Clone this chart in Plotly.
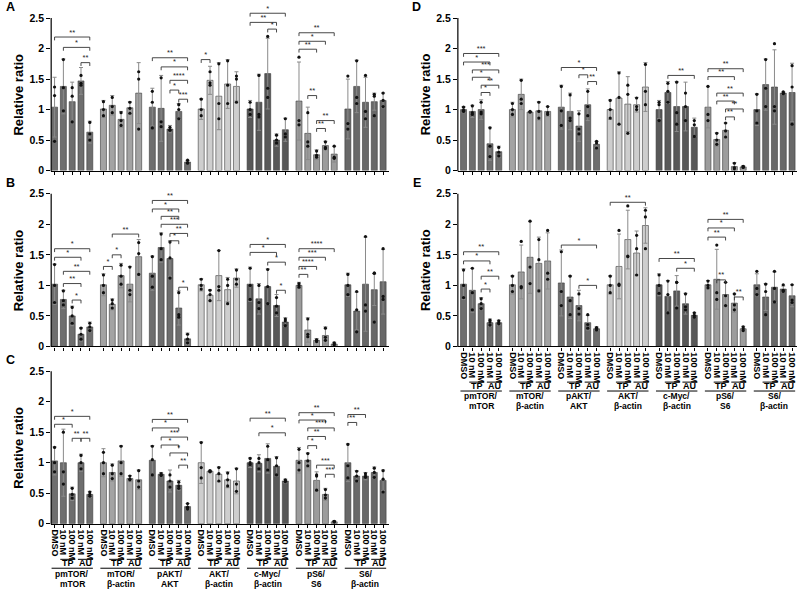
import plotly.graph_objects as go

# ---------------- data ----------------
conditions = ["DMSO", "10 nM", "100 nM", "10 nM", "100 nM"]
treatments = ["TP", "AU"]
group_top = ["pmTOR/", "mTOR/", "pAKT/", "AKT/", "c-Myc/", "pS6/", "S6/"]
group_bottom = ["mTOR", "β-actin", "AKT", "β-actin", "β-actin", "S6", "β-actin"]
group_colors = ["#6e6e6e", "#a3a3a3", "#6e6e6e", "#cecece", "#585858", "#9c9c9c", "#686868"]
y_ticks = [0, 0.5, 1, 1.5, 2, 2.5]
y_ticktext = ["0", "0.5", "1", "1.5", "2", "2.5"]

A_mean = [1.04, 1.38, 1.13, 1.47, 0.63,  1.01, 1.07, 0.84, 1.03, 1.27,  1.04, 1.02, 0.68, 0.97, 0.14,
          1.01, 1.48, 1.22, 1.42, 1.38,  1.01, 1.12, 1.59, 0.50, 0.67,  1.14, 0.61, 0.26, 0.41, 0.27,
          1.01, 1.38, 1.12, 1.13, 1.15]
A_err = [0.49, 0.45, 0.32, 0.22, 0.18,  0.14, 0.16, 0.13, 0.10, 0.50,  0.31, 0.54, 0.06, 0.13, 0.03,
         0.17, 0.23, 0.55, 0.40, 0.24,  0.14, 0.46, 0.58, 0.10, 0.19,  0.64, 0.43, 0.08, 0.07, 0.13,
         0.49, 0.43, 0.41, 0.14, 0.12]
A_dots = [[1.37, 1.23, 0.48], [1.82, 1.36, 0.98], [1.36, 1.22, 0.80], [1.56, 1.43, 1.40], [0.79, 0.60, 0.50],
          [1.13, 1.0, 0.9], [1.2, 1.05, 0.95], [0.95, 0.82, 0.74], [1.12, 1.02, 0.94], [1.62, 1.5, 0.68],
          [1.3, 1.12, 0.7], [1.52, 0.8, 0.72], [0.71, 0.67, 0.66], [1.08, 1.0, 0.85], [0.17, 0.13, 0.12],
          [1.17, 1.0, 0.9], [1.62, 1.44, 1.40], [1.75, 1.1, 0.85], [1.8, 1.4, 1.1], [1.55, 1.5, 1.12],
          [1.12, 1.0, 0.92], [1.56, 0.92, 0.88], [2.2, 1.35, 1.2], [0.58, 0.5, 0.45], [0.85, 0.6, 0.55],
          [1.86, 0.82, 0.75], [0.95, 0.47, 0.4], [0.32, 0.25, 0.22], [0.47, 0.38, 0.36], [0.4, 0.22, 0.2],
          [1.55, 0.77, 0.68], [1.8, 1.2, 1.1], [1.56, 0.97, 0.85], [1.25, 1.22, 0.9], [1.27, 1.15, 1.05]]
A_sig = [(0, 0, 4, 2.19, "**"), (0, 1, 4, 2.02, "*"), (0, 3, 4, 1.77, "**"),
         (2, 0, 4, 1.85, "**"), (2, 1, 4, 1.70, "*"), (2, 2, 4, 1.48, "****"), (2, 2, 3, 1.32, "*"),
         (2, 3, 4, 1.17, "***"),
         (3, 0, 1, 1.82, "*"),
         (4, 0, 4, 2.58, "*"), (4, 0, 3, 2.43, "**"), (4, 2, 3, 2.32, "*"),
         (5, 0, 4, 2.26, "**"), (5, 0, 3, 2.12, "*"), (5, 0, 2, 1.99, "**"), (5, 1, 2, 1.23, "**"),
         (5, 2, 4, 0.82, "**"), (5, 2, 3, 0.69, "**")]

B_mean = [1.02, 0.77, 0.50, 0.20, 0.32,  1.01, 0.69, 1.16, 1.02, 1.47,  1.20, 1.62, 1.44, 0.63, 0.125,
          1.01, 0.84, 1.16, 0.93, 1.12,  1.02, 0.78, 0.98, 0.67, 0.40,  1.00, 0.27, 0.10, 0.18, 0.04,
          1.01, 0.58, 1.02, 0.93, 1.06]
B_err = [0.33, 0.15, 0.16, 0.11, 0.08,  0.18, 0.09, 0.20, 0.29, 0.28,  0.28, 0.24, 0.29, 0.28, 0.095,
         0.10, 0.09, 0.41, 0.20, 0.15,  0.28, 0.25, 0.29, 0.18, 0.07,  0.05, 0.20, 0.03, 0.14, 0.03,
         0.19, 0.31, 0.77, 0.26, 0.53]
B_dots = [[1.34, 1.0, 0.72], [0.91, 0.75, 0.68], [0.64, 0.5, 0.38], [0.30, 0.2, 0.12], [0.38, 0.32, 0.26],
          [1.17, 1.0, 0.88], [0.76, 0.7, 0.63], [1.33, 1.15, 1.02], [1.3, 0.92, 0.85], [1.7, 1.52, 1.18],
          [1.47, 1.15, 0.97], [1.84, 1.6, 1.42], [1.71, 1.45, 1.12], [0.88, 0.52, 0.48], [0.2, 0.12, 0.06],
          [1.1, 1.0, 0.94], [0.92, 0.85, 0.75], [1.57, 0.98, 0.92], [1.1, 1.0, 0.7], [1.25, 1.1, 1.02],
          [1.28, 1.0, 0.77], [1.0, 0.72, 0.62], [1.26, 0.98, 0.7], [0.8, 0.66, 0.55], [0.45, 0.42, 0.34],
          [1.03, 1.0, 0.97], [0.45, 0.2, 0.16], [0.11, 0.1, 0.08], [0.3, 0.15, 0.1], [0.06, 0.04, 0.03],
          [1.18, 1.0, 0.85], [0.9, 0.6, 0.24], [1.8, 0.68, 0.58], [1.2, 1.2, 0.4], [1.6, 0.82, 0.77]]
B_sig = [(0, 0, 4, 1.60, "*"), (0, 0, 3, 1.46, "*"), (0, 1, 4, 1.23, "**"), (0, 1, 3, 1.03, "**"),
         (0, 2, 3, 0.76, "*"),
         (1, 1, 4, 1.84, "**"), (1, 1, 2, 1.50, "*"), (1, 0, 1, 1.31, "*"),
         (2, 0, 4, 2.39, "**"), (2, 0, 3, 2.25, "*"), (2, 1, 3, 2.13, "**"), (2, 1, 4, 2.00, "***"),
         (2, 2, 4, 1.85, "**"), (2, 2, 3, 1.73, "*"), (2, 3, 4, 0.97, "*"),
         (4, 0, 4, 1.67, "*"), (4, 0, 3, 1.54, "*"), (4, 2, 4, 1.38, "*"), (4, 3, 4, 0.92, "*"),
         (5, 0, 4, 1.60, "****"), (5, 0, 3, 1.46, "***"), (5, 0, 2, 1.31, "****"), (5, 0, 1, 1.18, "**")]

C_mean = [1.03, 1.00, 0.49, 1.00, 0.48,  1.00, 0.84, 1.03, 0.74, 0.72,  1.04, 0.81, 0.70, 0.63, 0.28,
          1.00, 0.86, 0.81, 0.72, 0.70,  1.00, 0.99, 1.07, 0.94, 0.70,  1.04, 1.04, 0.71, 0.48, 0.03,
          1.00, 0.78, 0.78, 0.84, 0.71]
C_err = [0.23, 0.55, 0.11, 0.14, 0.05,  0.23, 0.14, 0.25, 0.05, 0.16,  0.24, 0.03, 0.18, 0.08, 0.05,
         0.34, 0.015, 0.12, 0.13, 0.21,  0.08, 0.14, 0.24, 0.16, 0.03,  0.21, 0.12, 0.14, 0.10, 0.02,
         0.31, 0.09, 0.06, 0.09, 0.17]
C_dots = [[1.25, 1.0, 0.85], [1.5, 0.85, 0.65], [0.58, 0.48, 0.42], [1.12, 1.0, 0.9], [0.52, 0.48, 0.45],
          [1.17, 1.0, 0.82], [0.96, 0.82, 0.74], [1.27, 1.0, 0.82], [0.78, 0.73, 0.72], [0.87, 0.7, 0.6],
          [1.27, 1.05, 0.8], [0.82, 0.8, 0.79], [0.8, 0.7, 0.6], [0.68, 0.62, 0.58], [0.33, 0.27, 0.24],
          [1.33, 0.92, 0.75], [0.87, 0.86, 0.85], [0.92, 0.82, 0.7], [0.83, 0.72, 0.62], [0.9, 0.65, 0.53],
          [1.07, 1.0, 0.97], [1.07, 1.0, 0.9], [1.27, 1.05, 0.88], [1.08, 0.95, 0.8], [0.72, 0.7, 0.69],
          [1.22, 1.0, 0.88], [1.15, 1.03, 0.95], [0.8, 0.78, 0.55], [0.56, 0.47, 0.42], [0.04, 0.03, 0.03],
          [1.3, 0.95, 0.75], [0.86, 0.78, 0.7], [0.82, 0.78, 0.76], [0.91, 0.84, 0.76], [0.87, 0.73, 0.52]]
C_sig = [(0, 0, 4, 1.76, "*"), (0, 0, 2, 1.63, "*"), (0, 2, 3, 1.40, "**"), (0, 3, 4, 1.40, "**"),
         (2, 0, 4, 1.71, "**"), (2, 0, 3, 1.57, "*"), (2, 1, 4, 1.42, "***"), (2, 1, 3, 1.29, "*"),
         (2, 2, 4, 1.16, "*"), (2, 3, 4, 0.96, "**"),
         (4, 0, 4, 1.73, "**"), (4, 1, 4, 1.49, "*"),
         (5, 0, 4, 1.82, "**"), (5, 0, 3, 1.70, "*"), (5, 1, 4, 1.57, "****"), (5, 1, 3, 1.43, "**"),
         (5, 1, 2, 1.28, "*"), (5, 2, 4, 0.96, "***"), (5, 3, 4, 0.81, "***"),
         (6, 0, 2, 1.79, "**"), (6, 0, 1, 1.66, "**")]

D_mean = [1.00, 0.97, 1.00, 0.44, 0.31,  1.00, 1.25, 0.96, 0.98, 0.97,  1.04, 0.97, 0.73, 1.08, 0.43,
          1.00, 1.19, 1.09, 1.08, 1.37,  1.00, 1.28, 1.05, 1.05, 0.71,  1.04, 0.51, 0.66, 0.065, 0.06,
          1.00, 1.41, 1.37, 1.27, 1.28]
D_err = [0.05, 0.10, 0.16, 0.27, 0.09,  0.12, 0.25, 0.01, 0.15, 0.08,  0.36, 0.30, 0.25, 0.26, 0.05,
         0.16, 0.43, 0.45, 0.12, 0.40,  0.15, 0.18, 0.41, 0.40, 0.15,  0.34, 0.11, 0.12, 0.065, 0.02,
         0.26, 0.42, 0.61, 0.02, 0.48]
D_dots = [[1.04, 0.99, 0.97], [1.06, 0.95, 0.92], [1.12, 0.96, 0.93], [0.70, 0.40, 0.23], [0.38, 0.30, 0.24],
          [1.1, 1.0, 0.92], [1.48, 1.17, 1.1], [0.97, 0.96, 0.96], [1.12, 0.97, 0.86], [1.05, 0.95, 0.92],
          [1.38, 0.98, 0.74], [1.24, 0.86, 0.82], [0.93, 0.68, 0.6], [1.3, 1.05, 0.9], [0.48, 0.45, 0.37],
          [1.15, 1.0, 0.86], [1.6, 1.2, 0.76], [1.4, 1.25, 0.61], [1.19, 1.05, 1.0], [1.74, 1.3, 1.08],
          [1.12, 1.08, 0.82], [1.43, 1.3, 1.12], [1.45, 0.95, 0.76], [1.27, 1.05, 0.82], [0.82, 0.75, 0.56],
          [1.38, 0.92, 0.82], [0.61, 0.5, 0.43], [0.78, 0.65, 0.55], [0.12, 0.05, 0.03], [0.07, 0.06, 0.05],
          [1.25, 0.98, 0.78], [1.82, 1.35, 1.05], [2.08, 1.05, 0.98], [1.29, 1.27, 1.26], [1.72, 1.37, 0.76]]
D_sig = [(0, 0, 4, 1.92, "***"), (0, 0, 3, 1.78, "*"), (0, 1, 4, 1.65, "***"), (0, 1, 3, 1.53, "*"),
         (0, 2, 4, 1.40, "**"), (0, 2, 3, 1.28, "*"),
         (2, 0, 4, 1.69, "*"), (2, 2, 3, 1.57, "*"), (2, 3, 4, 1.46, "**"),
         (4, 1, 4, 1.56, "**"),
         (5, 0, 4, 1.67, "**"), (5, 0, 3, 1.54, "**"), (5, 1, 4, 1.27, "**"), (5, 1, 3, 1.14, "**"),
         (5, 2, 4, 1.01, "**"), (5, 2, 3, 0.88, "**")]

E_mean = [1.02, 0.92, 0.70, 0.39, 0.39,  1.01, 1.22, 1.46, 1.36, 1.40,  1.04, 0.81, 0.67, 0.39, 0.29,
          1.01, 1.31, 1.75, 1.53, 1.98,  1.01, 0.82, 0.91, 0.70, 0.51,  1.01, 1.10, 0.85, 0.71, 0.29,
          1.01, 0.81, 0.97, 0.94, 0.83]
E_err = [0.25, 0.36, 0.10, 0.06, 0.04,  0.15, 0.44, 0.59, 0.43, 0.46,  0.54, 0.35, 0.25, 0.12, 0.03,
         0.15, 0.53, 0.48, 0.36, 0.29,  0.18, 0.26, 0.25, 0.17, 0.04,  0.07, 0.49, 0.20, 0.15, 0.04,
         0.18, 0.22, 0.25, 0.05, 0.18]
E_dots = [[1.25, 1.0, 0.8], [1.28, 0.88, 0.6], [0.78, 0.7, 0.62], [0.43, 0.4, 0.35], [0.42, 0.39, 0.37],
          [1.15, 1.0, 0.9], [1.72, 0.98, 0.96], [2.05, 1.3, 1.03], [1.75, 1.42, 0.91], [1.9, 1.2, 1.1],
          [1.55, 0.9, 0.67], [1.15, 0.75, 0.52], [0.86, 0.62, 0.53], [0.52, 0.36, 0.3], [0.31, 0.3, 0.27],
          [1.15, 1.0, 0.88], [1.9, 1.02, 1.0], [2.3, 1.48, 1.47], [1.82, 1.6, 1.17], [2.23, 2.12, 1.6],
          [1.17, 1.0, 0.87], [1.07, 0.85, 0.55], [1.05, 1.05, 0.63], [0.86, 0.65, 0.6], [0.55, 0.51, 0.48],
          [1.07, 1.0, 0.96], [1.66, 0.88, 0.77], [1.05, 0.83, 0.67], [0.86, 0.68, 0.6], [0.32, 0.29, 0.26],
          [1.23, 0.95, 0.85], [1.02, 0.9, 0.52], [1.23, 0.95, 0.73], [1.01, 0.92, 0.9], [1.01, 0.76, 0.72]]
E_sig = [(0, 0, 4, 1.55, "**"), (0, 0, 3, 1.40, "*"), (0, 2, 4, 1.15, "**"), (0, 2, 3, 0.94, "*"),
         (2, 0, 4, 1.66, "*"), (2, 2, 4, 1.00, "*"),
         (3, 0, 4, 2.36, "**"),
         (4, 0, 4, 1.44, "**"), (4, 2, 4, 1.28, "*"),
         (5, 0, 4, 2.08, "**"), (5, 0, 3, 1.94, "*"), (5, 0, 2, 1.79, "**"), (5, 1, 2, 1.09, "**"),
         (5, 3, 4, 0.81, "**")]

# ---------------- layout geometry (pixels) ----------------
W, H = 800, 597
STEP = 5.55          # group pitch in bar units
K = 8.83             # pixels per bar unit
FONT = "Liberation Sans, Arial, sans-serif"

panels = [
    # name, mean, err, dots, sig, axis px, first bar px, right px, zero px, 2.5 px, labels
    ("A", A_mean, A_err, A_dots, A_sig, 49.3, 52.7, 388, 172.3, 18.3, False),
    ("B", B_mean, B_err, B_dots, B_sig, 49.3, 52.7, 388, 350.0, 195.7, False),
    ("C", C_mean, C_err, C_dots, C_sig, 49.3, 52.7, 388, 529.0, 375.0, True),
    ("D", D_mean, D_err, D_dots, D_sig, 457.0, 462.7, 797, 172.3, 18.3, False),
    ("E", E_mean, E_err, E_dots, E_sig, 457.0, 462.7, 797, 350.0, 195.7, True),
]

positions = [g * STEP + i for g in range(7) for i in range(5)]
bar_colors = [group_colors[g] for g in range(7) for i in range(5)]

fig = go.Figure()
shapes = []
annotations = []

for n, (name, mean, err, dots, sig, ax_px, first_px, right_px, zero_px, top_px, labels) in enumerate(panels):
    sx = "" if n == 0 else str(n + 1)
    xa, ya = "x" + sx, "y" + sx
    u = (zero_px - top_px) / 2.5
    dom_top_px = max(zero_px - 2.8 * u, 0.5)
    ymax = (zero_px - dom_top_px) / u
    xmin = -(first_px - ax_px) / K
    xmax = xmin + (right_px - ax_px) / K

    fig.add_trace(go.Bar(
        x=positions, y=mean, width=0.68, xaxis=xa, yaxis=ya,
        marker=dict(color=bar_colors, line=dict(color="#3a3a3a", width=0.6)),
        error_y=dict(type="data", array=err, visible=True, color="#8a8a8a", thickness=1, width=2),
        showlegend=False, hoverinfo="skip"))

    dx, dy = [], []
    for p, vals in zip(positions, dots):
        for v in vals:
            dx.append(p)
            dy.append(v)
    fig.add_trace(go.Scatter(
        x=dx, y=dy, mode="markers", xaxis=xa, yaxis=ya,
        marker=dict(color="#111111", size=3.2, symbol="circle"),
        showlegend=False, hoverinfo="skip", cliponaxis=False))

    lx, ly, tx, ty, tt = [], [], [], [], []
    for g, i, j, lev, lab in sig:
        x0 = g * STEP + i
        x1 = g * STEP + j
        lx += [x0, x0, x1, x1, None]
        ly += [lev - 0.055, lev, lev, lev - 0.055, None]
        tx.append((x0 + x1) / 2)
        ty.append(lev + 0.01)
        tt.append(lab)
    fig.add_trace(go.Scatter(
        x=lx, y=ly, mode="lines", xaxis=xa, yaxis=ya,
        line=dict(color="#333333", width=0.9), showlegend=False, hoverinfo="skip"))
    fig.add_trace(go.Scatter(
        x=tx, y=ty, mode="text", text=tt, textposition="top center", xaxis=xa, yaxis=ya,
        textfont=dict(family=FONT, size=7.5, color="#222222"),
        showlegend=False, hoverinfo="skip", cliponaxis=False))

    xdict = dict(
        domain=[ax_px / W, right_px / W], range=[xmin, xmax], anchor=ya,
        showline=True, linecolor="black", linewidth=1.2, showgrid=False, zeroline=False,
        ticks="outside", ticklen=3, tickwidth=1, tickcolor="black",
        tickvals=positions, fixedrange=True)
    if labels:
        xdict.update(ticktext=conditions * 7, showticklabels=True, tickangle=90,
                     tickfont=dict(family=FONT, size=9, color="black", weight="bold"))
    else:
        xdict.update(showticklabels=False)
    ydict = dict(
        domain=[1 - zero_px / H, 1 - dom_top_px / H], range=[0, ymax], anchor=xa,
        showline=False, showgrid=False, zeroline=False,
        ticks="outside", ticklen=4, tickwidth=1, tickcolor="black",
        tickvals=y_ticks, ticktext=y_ticktext,
        tickfont=dict(family=FONT, size=10.5, color="black", weight="bold"), fixedrange=True)
    fig.layout["xaxis" + sx] = xdict
    fig.layout["yaxis" + sx] = ydict

    # y axis line (0 .. 2.5)
    shapes.append(dict(type="line", xref="paper", yref="paper",
                       x0=ax_px / W, x1=ax_px / W, y0=1 - (zero_px + 0.6) / H, y1=1 - top_px / H,
                       line=dict(color="black", width=1.2)))
    # y title
    annotations.append(dict(text="Relative ratio", xref="paper", yref="paper",
                            x=(ax_px - 33) / W, y=1 - (zero_px + top_px) / 2 / H,
                            textangle=-90, showarrow=False, xanchor="center", yanchor="middle",
                            font=dict(family=FONT, size=13, color="black", weight="bold")))
    # panel letter
    annotations.append(dict(text=name, xref="paper", yref="paper",
                            x=(ax_px - 41) / W, y=1 - (top_px - 11) / H,
                            showarrow=False, xanchor="center", yanchor="middle",
                            font=dict(family=FONT, size=12.5, color="black", weight="bold")))

    if labels:
        y_tp_line = 1 - (zero_px + 36) / H
        y_tp_text = 1 - (zero_px + 40) / H
        y_grp_line = 1 - (zero_px + 45) / H
        y_lab1 = 1 - (zero_px + 50.5) / H
        y_lab2 = 1 - (zero_px + 60.5) / H
        for g in range(7):
            base = g * STEP
            for t, (a, b) in enumerate([(1, 2), (3, 4)]):
                shapes.append(dict(type="line", xref=xa, yref="paper",
                                   x0=base + a - 0.35, x1=base + b + 0.35, y0=y_tp_line, y1=y_tp_line,
                                   line=dict(color="black", width=1)))
                annotations.append(dict(text=treatments[t], xref=xa, yref="paper",
                                        x=base + (a + b) / 2, y=y_tp_text, showarrow=False,
                                        xanchor="center", yanchor="middle",
                                        font=dict(family=FONT, size=9, color="black", weight="bold")))
            shapes.append(dict(type="line", xref=xa, yref="paper",
                               x0=base - 0.35, x1=base + 4.35, y0=y_grp_line, y1=y_grp_line,
                               line=dict(color="black", width=1)))
            annotations.append(dict(text=group_top[g], xref=xa, yref="paper",
                                    x=base + 2, y=y_lab1, showarrow=False,
                                    xanchor="center", yanchor="middle",
                                    font=dict(family=FONT, size=8.5, color="black", weight="bold")))
            annotations.append(dict(text=group_bottom[g], xref=xa, yref="paper",
                                    x=base + 2, y=y_lab2, showarrow=False,
                                    xanchor="center", yanchor="middle",
                                    font=dict(family=FONT, size=8.5, color="black", weight="bold")))

fig.update_layout(
    width=W, height=H, margin=dict(l=0, r=0, t=0, b=0),
    paper_bgcolor="white", plot_bgcolor="white",
    shapes=shapes, annotations=annotations, showlegend=False,
    barmode="overlay", font=dict(family=FONT, color="black"))

fig.write_html("out.html", config={"displayModeBar": False},
               post_script="document.body.style.margin='0';document.body.style.overflow='hidden';")
